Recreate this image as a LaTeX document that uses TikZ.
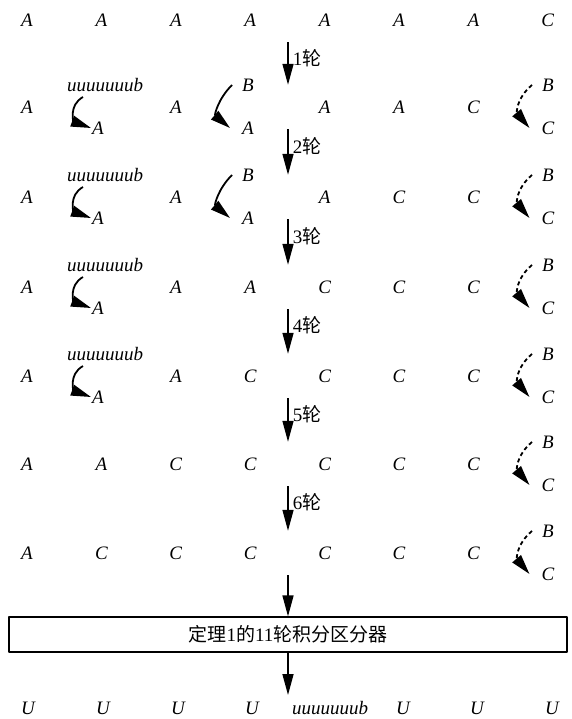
\documentclass[tikz,border=0pt]{standalone}
\usepackage{fontspec}
\setmainfont{Liberation Serif}
\newfontfamily\cjk{Noto Sans CJK SC}
\usetikzlibrary{arrows.meta}
\tikzset{ltr/.style={font=\fontsize{19}{22}\selectfont\itshape,inner sep=1pt},
  hub/.style={minimum height=44pt,minimum width=0pt,inner sep=0pt},
  rnd/.style={line width=1.5pt,-{Triangle[length=21pt,width=11pt]}},
  hop/.style={line width=1.8pt,-{Triangle[length=20pt,width=11pt]}},
  hopd/.style={hop,dash pattern=on 4pt off 3pt}}
\newcommand{\zh}[1]{{\cjk #1}}

\begin{document}
\begin{tikzpicture}[x=1pt,y=1pt,line join=round,font=\fontsize{19}{22}\selectfont]
\useasboundingbox (0,0) rectangle (571,-719);
% --- rows of states, column x = 27 + 74.4*(c-1)
\foreach \c/\l in {1/A,2/A,3/A,4/A,5/A,6/A,7/A,8/C} \node[ltr] (r0c\c) at ({27+74.4*(\c-1)},-20) {\l};
\foreach \c/\l in {1/A,3/A,5/A,6/A,7/C} \node[ltr] (r1c\c) at ({27+74.4*(\c-1)},-107) {\l};
\foreach \c/\l in {1/A,3/A,5/A,6/C,7/C} \node[ltr] (r2c\c) at ({27+74.4*(\c-1)},-197) {\l};
\foreach \c/\l in {1/A,3/A,4/A,5/C,6/C,7/C} \node[ltr] (r3c\c) at ({27+74.4*(\c-1)},-287) {\l};
\foreach \c/\l in {1/A,3/A,4/C,5/C,6/C,7/C} \node[ltr] (r4c\c) at ({27+74.4*(\c-1)},-376) {\l};
\foreach \c/\l in {1/A,2/A,3/C,4/C,5/C,6/C,7/C} \node[ltr] (r5c\c) at ({27+74.4*(\c-1)},-464) {\l};
\foreach \c/\l in {1/A,2/C,3/C,4/C,5/C,6/C,7/C} \node[ltr] (r6c\c) at ({27+74.4*(\c-1)},-553) {\l};
% --- substitutions inside a row
\foreach \r/\y in {1/-107,2/-197,3/-287,4/-376} {
  \node[ltr] (sub\r) at (105,\y+22) {uuuuuuub}; \node[ltr] (lowa\r) at (98,\y-21) {A};
  \draw[hop] ([shift={(-22,-12)}]sub\r.center) to[out=210,in=160,looseness=1.4] (lowa\r.west);
}
\foreach \r/\y in {1/-107,2/-197} {
  \node[ltr] (bb\r) at (248,\y+22) {B}; \node[ltr] (lowb\r) at (248,\y-21) {A};
  \draw[hop] ([xshift=-9pt]bb\r.west) to[out=225,in=140,looseness=1.2] ([xshift=-11pt]lowb\r.west);
}
\foreach \r/\y in {1/-107,2/-197,3/-287,4/-376,5/-464,6/-553} {
  \node[ltr] (bc\r) at (548,\y+22) {B}; \node[ltr] (lowc\r) at (548,\y-21) {C};
  \draw[hopd] ([xshift=-9pt]bc\r.west) to[out=220,in=130,looseness=1.2] ([xshift=-11pt]lowc\r.west);
}
% --- rounds down the middle
\foreach \r/\y in {0/-20,1/-107,2/-197,3/-287,4/-376,5/-464,6/-553} \node[hub] (m\r) at (288,\y) {};
\foreach \r [count=\k] in {0,...,5} \draw[rnd] (m\r) -- node[right,pos=0.37,inner sep=4pt] {\k\zh{轮}} (m\k);
\node[draw,line width=1.2pt,minimum width=558pt,minimum height=35pt,inner sep=0pt] (dist) at (288,-634.5) {\zh{定理}1\zh{的}11\zh{轮积分区分器}};
\draw[rnd] (m6) -- (dist);
\coordinate (out) at (288,-695);
\draw[rnd] (dist) -- (out);
% --- output row
\foreach \x [count=\c] in {28,103,178,252,403,477,552} \node[ltr] (u\c) at (\x,-708) {U};
\node[ltr] (ub) at (330,-708) {uuuuuuub};
\end{tikzpicture}
\end{document}
